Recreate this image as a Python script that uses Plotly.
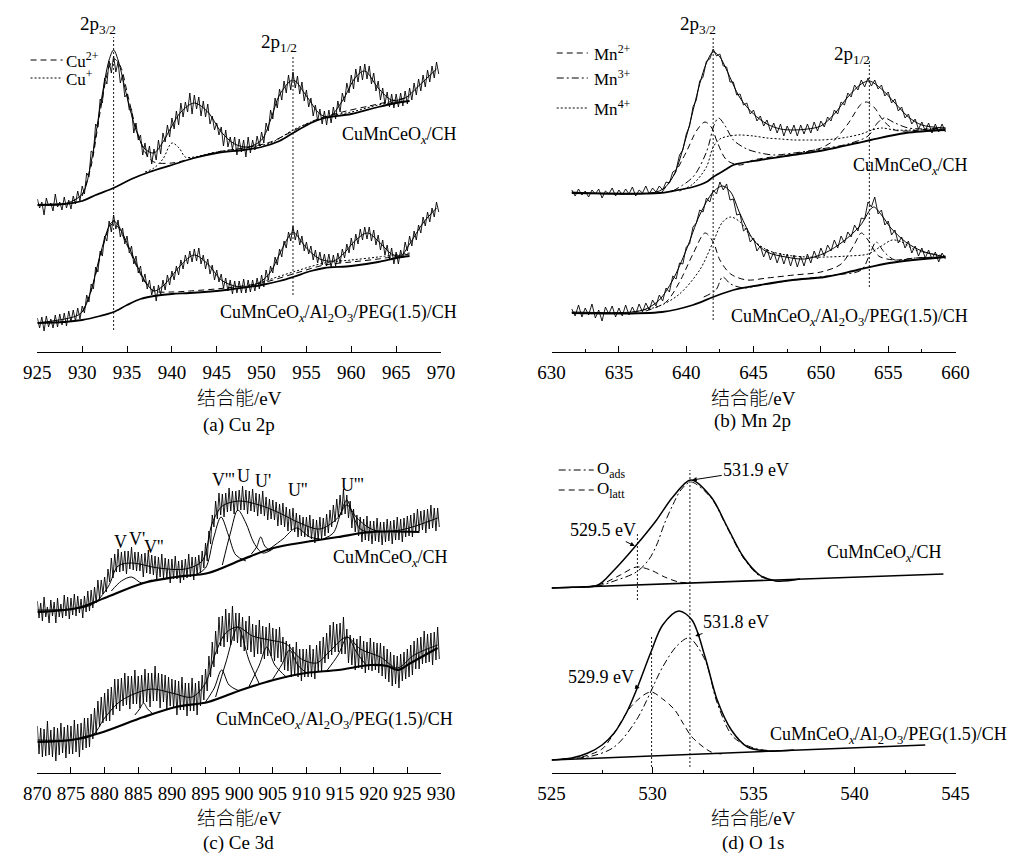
import numpy as np
import plotly.graph_objects as go

W, H = 1024, 859
FONT = "Liberation Serif, Times New Roman, serif"
CJK = "Liberation Serif, Noto Sans CJK SC, serif"

# ---------------- (a) Cu 2p ----------------
cu_start, cu_step = 925.0, 0.25
cu_top_raw = [153,144,150,137,154,146,149,141,158,145,150,142,155,144,152,143,156,148,161,151,
              166,158,179,175,201,199,228,225,253,249,274,268,291,279,296,280,290,269,277,255,
              258,242,243,219,229,212,217,197,209,195,206,188,203,192,212,198,219,210,227,215,
              234,223,241,227,249,235,250,240,259,238,257,243,255,236,251,235,248,228,236,222,
              229,217,225,206,222,205,215,203,215,197,213,200,212,195,215,199,212,202,216,206,
              220,209,229,221,242,233,254,244,263,252,271,259,277,262,280,264,276,258,270,251,
              262,245,254,236,247,231,243,228,241,227,242,229,245,233,251,240,259,250,269,259,
              277,263,283,270,286,272,288,273,286,268,279,261,271,252,264,248,260,245,258,244,
              258,245,259,246,261,248,264,252,269,257,273,261,277,265,282,270,286,274,290,278]
cu_bot_raw = [34,24,35,21,36,25,33,24,37,25,38,27,39,26,41,30,42,31,44,33,
              46,39,57,50,68,63,85,80,101,96,116,111,131,120,137,123,132,115,124,108,
              116,99,106,88,96,79,86,70,78,63,72,57,66,51,67,57,72,62,77,67,
              81,72,86,77,92,83,97,88,101,90,103,91,104,88,97,83,93,78,87,72,
              82,70,78,64,74,61,72,58,71,59,71,59,73,59,72,60,72,61,74,63,
              77,65,82,72,86,79,95,87,103,95,111,104,120,111,126,112,122,107,116,101,
              110,98,106,92,102,89,100,87,98,86,98,85,97,86,99,89,103,94,108,99,
              114,102,118,108,123,112,125,113,125,111,122,107,117,102,112,97,107,93,104,88,
              100,88,102,94,110,101,116,106,121,112,127,119,135,126,140,130,144,135,150,140]
cu_top_env_e = [925,928,930,931,932,933,933.5,934,935,936,937,938,939,940,941,942.5,944,945.5,947,948.5,
                950,951,952,953.5,955,956.5,957.5,959,960.5,961.5,963,964.5,966,967.5,969.5]
cu_top_env_h = [147,148,158,190,245,292,302,292,255,222,203,199,210,226,240,249,240,220,208,205,
                212,232,257,272,256,238,235,251,275,281,264,252,254,266,283]
cu_top_bg_e = [925,928,930,931.5,933.5,935.5,937.5,940,942.5,945,948,950,952,953.5,955.5,957,960,963,965,966.5]
cu_top_bg_h = [147,148,151,157,164,173,180,187,194,199,202,205,211,219,229,234,238,245,249,251]
cu_top_cu2_e = [930,931,932,933,933.6,934.3,935,936,937,938,940,942,945,948,951,953.5,956,959,962,965,966.5]
cu_top_cu2_h = [156,186,240,285,293,285,260,224,200,190,189,193,200,204,210,221,232,240,246,252,255]
cu_top_cu1_e = [937,938,939,940,940.8,941.5,942.5,945,948,951,953.5,955.5,957.5,960,963,965.5]
cu_top_cu1_h = [180,184,193,209,204,195,195,200,204,209,222,230,236,240,247,251]
cu_bot_env_e = [925,929,930,931,932,933,933.5,934,935,936,937,938,939,940,941,942.5,944,945.5,947,948.5,
                950,951,952,953,953.5,954,955,956.5,958,959,960.5,961.8,963,964.5,965.5,966.5,968,969.5]
cu_bot_env_h = [29,35,40,62,97,126,131,127,109,89,71,61,66,76,87,97,88,72,66,65,
                71,80,98,115,120,116,104,93,91,97,112,119,111,98,96,108,129,144]
cu_bot_bg_e = [925,928,930,932,933.5,935,936.5,938,940,942,946,950,952,953.5,955.5,957,960,963,965,966.5]
cu_bot_bg_h = [29,30,32,36,40,47,53,56,58,59,62,67,71,75,81,84,86,90,94,96]
cu_bot_cu2_e = [930,931,932,933,933.5,934,935,936,937,938,940,942,946,950,953.5,957,960,963,966.5]
cu_bot_cu2_h = [40,61,95,124,129,125,107,87,70,61,60,61,64,69,78,87,90,93,98]
cu_bot_cu1_e = [948,950,953.5,957,960,963,966.5]
cu_bot_cu1_h = [65,70,80,89,92,95,99]

# ---------------- (b) Mn 2p ----------------
mn_start, mn_step = 631.5, 0.25
mn_top_raw = [162,156,163,157,161,155,162,158,
              163,154,161,158,164,156,162,157,
              163,158,165,156,162,159,166,158,
              164,160,166,162,170,169,180,182,
              197,202,218,226,245,252,271,275,
              291,293,303,296,298,286,285,270,
              270,257,258,247,249,238,242,231,
              236,226,232,221,229,219,228,216,
              226,218,227,216,227,218,228,219,
              230,221,231,225,235,231,242,238,
              250,247,259,255,267,262,272,265,
              274,266,272,263,267,256,260,249,
              253,241,245,234,238,228,233,223,
              230,221,229,219,228,220,228,220]
mn_bot_raw = [43,36,47,35,44,37,48,34,
              42,31,45,38,46,35,44,36,
              47,37,45,38,48,40,49,42,
              52,46,57,51,64,60,76,73,
              89,88,105,108,125,129,142,140,
              154,150,162,158,170,162,168,152,
              153,137,138,121,124,110,114,101,
              106,95,103,92,100,89,99,88,
              98,86,97,85,96,86,98,89,
              101,93,104,96,107,101,112,104,
              116,109,120,115,127,121,134,133,
              150,145,155,138,142,127,131,117,
              122,109,115,104,111,99,106,96,
              104,94,102,93,100,90,99,93]
mn_top_env_e = [631.5,638,639,640,641,641.5,642,642.5,643,644,645,646,647,648,649,650,651,652,653,653.6,654.5,655.5,656.5,657.5,659.25]
mn_top_env_h = [160,161,175,215,268,289,300,295,282,254,238,228,223,222,223,226,238,255,268,271,263,249,235,227,224]
mn_top_bg_e = [631.5,638,639,640.5,641.5,642,643,643.5,645.5,647.9,650.3,652.7,653.7,656.3,659.25]
mn_top_bg_h = [159,159,161,165,170,175,183,187,192,197,202,209,212,219,222]
mn_top_mn2_e = [638.2,639,640,640.8,641.4,641.9,642.3,643,644,645,648,650,651,652,653,653.4,654,654.6,655.5,656.5,658,659.25]
mn_top_mn2_h = [160,175,200,222,230,224,210,192,187,192,198,204,212,228,248,250,244,232,222,221,223,224]
mn_top_mn3_e = [639,640.5,641.5,642.1,642.4,642.9,643.5,644.5,645.5,646.5,648,650,652,653.5,654.2,654.7,655.5,656.5,658,659.25]
mn_top_mn3_h = [161,175,200,228,234,226,212,203,199,197,199,203,208,216,229,234,229,224,223,223]
mn_top_mn4_e = [639.5,640.5,641.5,642,642.5,643.2,644,645,646,647,648,649,650,651,652,653,653.8,654.5,655.5,657,659.25]
mn_top_mn4_h = [161,168,185,205,213,216,217,216,214,213,212,212,212,213,215,218,222,224,222,222,223]
mn_bot_env_e = [631.5,636,637,638,639,640,641,642,642.7,643.3,644,645,646,647.4,648.8,650.3,651.7,652.9,653.9,654.5,655.2,656.3,657.5,659.25]
mn_bot_env_h = [40,40,43,52,72,102,137,160,166,160,138,112,100,95,93,99,111,126,145,137,124,110,101,95]
mn_bot_bg_e = [631.5,638.2,640.5,642,643.5,645.5,647.9,650.3,652.7,655.1,659.25]
mn_bot_bg_h = [39,40,47,55,62,67,72,75,82,89,95]
mn_bot_mn2_e = [637,638.5,639.5,640.5,641.4,642,642.5,643.3,644.5,646,648,650,651.5,652.5,653,653.5,654.3,655.5,657,659.25]
mn_bot_mn2_h = [41,50,70,98,119,110,92,78,72,74,77,80,88,108,119,112,96,92,94,95]
mn_bot_mn3_e = [641.3,642.2,642.7,643.3,644.3,645.5,648,651,653,653.7,654.1,654.7,655.5,657,659.25]
mn_bot_mn3_h = [55,62,75,68,64,67,72,77,82,100,110,100,92,94,95]
mn_bot_mn4_e = [636,638,639.5,641,642,642.7,643.3,644,645,646,647.4,649,650.5,652,653.5,654.5,655.3,656,657,659.25]
mn_bot_mn4_h = [40,46,58,82,110,130,135,130,112,102,97,95,95,96,98,106,112,110,102,96]

# ---------------- (c) Ce 3d ----------------
ce_start, ce_step = 870.0, 0.25
ce_top_raw = [172,155,170,152,176,156,166,150,173,157,171,150,175,156,169,155,178,157,176,154,
              175,158,179,157,177,160,174,155,177,161,182,162,183,165,186,170,193,174,193,179,
              196,181,204,191,215,195,219,201,224,201,221,202,222,199,222,204,226,203,221,202,
              221,202,219,196,220,200,223,199,218,198,217,193,216,196,219,195,215,195,214,190,
              214,194,217,194,212,190,213,193,214,195,219,196,216,193,216,198,218,200,222,205,
              230,212,242,229,258,246,272,254,280,258,279,256,280,261,285,262,282,259,282,262,
              283,263,287,263,283,259,282,262,284,261,280,257,279,259,282,257,276,253,274,254,
              273,253,271,247,269,248,270,246,266,242,264,243,265,241,260,236,258,237,256,236,
              256,236,258,234,254,230,253,233,256,234,255,237,259,240,263,246,268,251,274,256,
              278,258,284,259,278,255,272,245,264,241,258,237,256,231,254,233,257,232,252,229,
              252,232,255,231,251,228,251,231,254,232,252,229,253,233,256,233,254,231,255,236,
              257,237,258,236,260,241,264,242,262,243,263,240,264,244,268,245,265,242,265,246]
ce_bot_raw = [47,19,45,16,44,17,52,18,43,16,46,12,45,18,50,20,46,15,48,19,
              47,19,53,21,49,16,50,23,55,25,55,26,59,34,65,40,72,46,76,50,
              80,52,84,52,86,58,94,64,94,62,95,67,100,68,97,64,97,69,103,69,
              97,65,98,70,104,71,100,66,100,72,107,72,100,65,99,71,98,64,96,67,
              94,65,93,58,92,63,96,63,90,57,90,62,95,62,90,58,92,67,98,73,
              104,82,117,96,131,106,142,119,156,127,157,126,164,131,160,128,167,132,160,130,
              160,126,156,122,152,123,157,121,149,116,148,119,153,119,147,114,146,117,150,117,
              145,112,144,115,146,111,136,103,132,102,129,96,126,97,131,96,124,92,124,96,
              124,96,128,96,124,94,128,102,132,102,136,110,140,114,148,118,151,121,149,121,
              150,119,156,119,144,110,138,108,135,103,134,105,137,104,132,100,131,103,135,102,
              131,103,130,100,130,97,127,94,124,91,121,87,118,89,117,85,119,92,121,94,
              124,96,128,98,132,104,135,104,136,109,142,110,139,111,140,108,141,113,146,114]
ce_top_env_e = [870,878,880.5,882,884,888,892,894.5,896,897.5,900,903,906,909,912,914.5,916,917.5,920,924,929.5]
ce_top_env_h = [163,168,186,207,210,205,204,212,250,267,272,268,260,250,244,254,268,255,243,243,255]
ce_top_bg_e = [870,876,880,885.8,890.6,895.4,900.3,905.1,909.9,914.7,919.6,926.8]
ce_top_bg_h = [161,165,175,190,196,200,213,225,231,236,241,241]
ce_top_peak_e = [[881,882.5,884,885.5,887],[893.5,895,896.2,897.3,898.4,899.5,901],
                 [897.5,898.7,899.8,901,902.2,903.5,905],[901.8,902.6,903.2,903.8,904.6],
                 [904.5,906.5,908.5,910.5,912],[912.5,914,915,916,917,918,919.5]]
ce_top_peak_h = [[182,192,196,190,193],[198,205,235,256,238,218,212],
                 [208,240,263,250,230,220,224],[219,226,236,227,222],
                 [224,234,245,236,234],[234,240,258,273,256,244,240]]
ce_bot_env_e = [870,878,880,882,884,887,890,893,895,896.5,898,899.8,902,904.5,907,909,911.5,913.5,916,918,921,923.5,926,929.5]
ce_bot_env_h = [33,37,55,70,78,84,80,76,90,120,140,146,137,133,129,115,110,122,136,124,116,105,118,128]
ce_bot_bg_e = [870,875,879.3,885.8,890.6,895.4,900.3,905.1,909.9,914.7,919.6,922,923.6,925.5,929.5]
ce_bot_bg_h = [31,33,40,56,66,71,83,93,100,103,108,107,103,110,125]
ce_bot_peak_e = [[884.5,885.2,885.8,886.4,887.2],[895,896.3,897.4,898.5,900],
                 [896.5,898,899.8,901.5,903],[901.5,903,904.1,905.3,907],
                 [905,906.3,907.5,908.7,910],[913,914.7,916.1,917.5,919]]
ce_bot_peak_h = [[58,64,70,64,59],[71,85,103,88,82],[76,110,146,112,89],
                 [87,108,126,108,96],[94,108,123,108,100],[102,118,136,120,107]]

# ---------------- (d) O 1s ----------------
o_top_base_e = [525, 544.4]
o_top_base_h = [185, 199]
o_top_env_e = [525,526,527.3,528.1,529.2,530.2,531,531.9,532.9,533.7,534.5,535.3,536.1,537.3]
o_top_env_h = [185,185.7,188,203,228,253,276,293,276,246,216,198,192,194]
o_top_ads_e = [526.5,527.3,528.1,529.2,529.8,530.2,530.6,531,531.4,531.9,532.9,533.7,534.5,535.3,536.1]
o_top_ads_h = [186,187,192,201,213,228,250,268,283,291,275,245,215,197,192]
o_top_latt_e = [526.8,527.6,528.4,529.2,529.9,530.6,531.3,531.9]
o_top_latt_h = [186,190,198,206,203,196,191,190]
o_bot_base_e = [525, 543.5]
o_bot_base_h = [13, 28]
o_bot_env_e = [525,526,526.8,527.5,528.1,528.7,529.2,529.9,530.5,531.3,531.95,532.6,533.2,533.9,534.7,535.7,537]
o_bot_env_h = [13,15,20,28,40,60,83,120,148,162,153,116,73,43,26,22,23]
o_bot_ads_e = [525.5,527,528.1,529.2,530.5,531.2,531.8,532.6,533.2,534,535,536]
o_bot_ads_h = [14,17,26,53,106,127,135,113,70,36,25,22]
o_bot_latt_e = [526.5,527.5,528.1,529,529.9,530.5,531.1,531.5,531.95,532.9,533.5]
o_bot_latt_h = [16,24,40,68,81,74,63,50,36,21,19]

DASH = "6px,4px"
DOT = "2px,2px"
DASHDOT = "7px,3px,2px,3px"

fig = go.Figure()


def line(e, h, ax, width=1.0, dash="solid", shape="spline"):
    ya = ax.replace("x", "y")
    fig.add_trace(go.Scatter(x=e, y=h, mode="lines", xaxis=ax, yaxis=ya,
                             line=dict(color="black", width=width, dash=dash,
                                       shape=shape, smoothing=0.9),
                             hoverinfo="skip", showlegend=False))


def raw(vals, start, step, ax, width=0.9):
    e = start + step * np.arange(len(vals))
    line(e, vals, ax, width=width, shape="linear")


# (a)
raw(cu_top_raw, cu_start, cu_step, "x")
raw(cu_bot_raw, cu_start, cu_step, "x")
line(cu_top_env_e, cu_top_env_h, "x", 1.0)
line(cu_bot_env_e, cu_bot_env_h, "x", 1.0)
line(cu_top_bg_e, cu_top_bg_h, "x", 1.8)
line(cu_bot_bg_e, cu_bot_bg_h, "x", 1.8)
line(cu_top_cu2_e, cu_top_cu2_h, "x", 1.0, DASH)
line(cu_bot_cu2_e, cu_bot_cu2_h, "x", 1.0, DASH)
line(cu_top_cu1_e, cu_top_cu1_h, "x", 1.0, DOT)
line(cu_bot_cu1_e, cu_bot_cu1_h, "x", 1.0, DOT)
# (b)
raw(mn_top_raw, mn_start, mn_step, "x2")
raw(mn_bot_raw, mn_start, mn_step, "x2")
line(mn_top_env_e, mn_top_env_h, "x2", 1.0)
line(mn_bot_env_e, mn_bot_env_h, "x2", 1.0)
line(mn_top_bg_e, mn_top_bg_h, "x2", 1.8)
line(mn_bot_bg_e, mn_bot_bg_h, "x2", 1.8)
line(mn_top_mn2_e, mn_top_mn2_h, "x2", 1.0, DASH)
line(mn_bot_mn2_e, mn_bot_mn2_h, "x2", 1.0, DASH)
line(mn_top_mn3_e, mn_top_mn3_h, "x2", 1.0, DASHDOT)
line(mn_bot_mn3_e, mn_bot_mn3_h, "x2", 1.0, DASHDOT)
line(mn_top_mn4_e, mn_top_mn4_h, "x2", 1.0, DOT)
line(mn_bot_mn4_e, mn_bot_mn4_h, "x2", 1.0, DOT)
# (c)
raw(ce_top_raw, ce_start, ce_step, "x3")
raw(ce_bot_raw, ce_start, ce_step, "x3")
line(ce_top_env_e, ce_top_env_h, "x3", 1.0)
line(ce_bot_env_e, ce_bot_env_h, "x3", 1.0)
line(ce_top_bg_e, ce_top_bg_h, "x3", 2.2)
line(ce_bot_bg_e, ce_bot_bg_h, "x3", 2.2)
for pe, ph in zip(ce_top_peak_e, ce_top_peak_h):
    line(pe, ph, "x3", 1.0)
for pe, ph in zip(ce_bot_peak_e, ce_bot_peak_h):
    line(pe, ph, "x3", 1.0)
# (d)
line(o_top_base_e, o_top_base_h, "x4", 1.6, shape="linear")
line(o_bot_base_e, o_bot_base_h, "x4", 1.6, shape="linear")
line(o_top_env_e, o_top_env_h, "x4", 1.5)
line(o_bot_env_e, o_bot_env_h, "x4", 1.5)
line(o_top_ads_e, o_top_ads_h, "x4", 1.0, DASHDOT)
line(o_bot_ads_e, o_bot_ads_h, "x4", 1.0, DASHDOT)
line(o_top_latt_e, o_top_latt_h, "x4", 1.0, DASH)
line(o_bot_latt_e, o_bot_latt_h, "x4", 1.0, DASH)

shapes = []


def vline(ax, e, h0, h1):
    shapes.append(dict(type="line", xref=ax, yref=ax.replace("x", "y"), x0=e, x1=e, y0=h0, y1=h1,
                       line=dict(color="black", width=0.9, dash=DOT)))


vline("x", 933.5, 22, 315)
vline("x", 953.5, 57, 295)
vline("x2", 642.0, 32, 314)
vline("x2", 653.6, 65, 292)
vline("x4", 529.25, 173, 240)
vline("x4", 531.85, 6, 303)
vline("x4", 529.95, 6, 138)


def px(x):
    return x / W


def py(y):
    return 1 - y / H


def legend_line(x0, x1, y, dash):
    shapes.append(dict(type="line", xref="paper", yref="paper", x0=px(x0), x1=px(x1),
                       y0=py(y), y1=py(y), line=dict(color="black", width=1, dash=dash)))


legend_line(17, 50, 60, DASH)
legend_line(17, 50, 78, DOT)
legend_line(558, 590, 53, DASH)
legend_line(558, 590, 78, DASHDOT)
legend_line(558, 590, 108, DOT)
legend_line(560, 596, 470, DASHDOT)
legend_line(560, 596, 490, DASH)

ann = []


def text(t, x, y, size=18, xanchor="center", font=FONT, weight=None):
    f = dict(family=font, size=size, color="black")
    if weight:
        f["weight"] = weight
    ann.append(dict(text=t, x=px(x), y=py(y), xref="paper", yref="paper", showarrow=False,
                    xanchor=xanchor, yanchor="middle", font=f))


def arrow_text(t, tx, ty, hx, hy):
    e = 525 + (hx - 552.7) / 20.72
    h = 773 - hy
    ann.append(dict(text=t, x=e, y=h, xref="x4", yref="y4", showarrow=True, ax=tx - hx, ay=ty - hy,
                    arrowhead=2, arrowsize=0.9, arrowwidth=1, arrowcolor="black",
                    font=dict(family=FONT, size=18, color="black")))


CH = "CuMnCeO<sub><i>x</i></sub>/CH"
PEG = "CuMnCeO<sub><i>x</i></sub>/Al<sub>2</sub>O<sub>3</sub>/PEG(1.5)/CH"

# (a)
text("2p<sub>3/2</sub>", 86, 25, 19)
text("2p<sub>1/2</sub>", 272, 43, 19)
text("Cu<sup>2+</sup>", 51, 60, 17, "left")
text("Cu<sup>+</sup>", 51, 78, 17, "left")
text(CH, 458, 136, 18, "right")
text(PEG, 458, 313, 18, "right")
# (b)
text("2p<sub>3/2</sub>", 703, 25, 19)
text("2p<sub>1/2</sub>", 862, 55, 19)
text("Mn<sup>2+</sup>", 594, 53, 17, "left")
text("Mn<sup>3+</sup>", 594, 78, 17, "left")
text("Mn<sup>4+</sup>", 594, 108, 17, "left")
text(CH, 983, 167, 18, "right")
text(PEG, 983, 317, 18, "right")
# (c)
text("V'''", 215, 480, 18)
text("U", 236, 476, 18)
text("U'", 256, 481, 18)
text("U''", 292, 490, 18)
text("U'''", 348, 485, 18)
text("V", 109, 542, 18)
text("V'", 126, 539, 18)
text("V''", 144, 547, 18)
text(CH, 448, 558, 18, "right")
text(PEG, 453, 720, 18, "right")
# (d)
text("O<sub>ads</sub>", 597, 470, 17, "left")
text("O<sub>latt</sub>", 597, 490, 17, "left")
text(CH, 956, 553, 18, "right")
text(PEG, 1023, 735, 18, "right")
arrow_text("531.9 eV", 761, 470, 697, 480)
arrow_text("529.5 eV", 606, 530, 638, 546)
arrow_text("531.8 eV", 741, 622, 700, 636)
arrow_text("529.9 eV", 604, 677, 643, 688)

# axis titles and captions
for cx in (232, 760):
    text("结合能/eV", cx, 398, 19, font=CJK, weight=300)
    text("结合能/eV", cx, 818, 19, font=CJK, weight=300)
text("(a) Cu 2p", 231, 425, 19)
text("(b) Mn 2p", 759, 421, 19)
text("(c) Ce 3d", 231, 843, 19)
text("(d) O 1s", 760, 843, 19)


def xax(domain, rng, tick0, minor=False, anchor="y"):
    d = dict(domain=domain, range=rng, anchor=anchor, showline=True, linecolor="black", linewidth=1,
             ticks="inside", ticklen=6, tickwidth=1, tickcolor="black", tick0=tick0, dtick=5,
             showgrid=False, zeroline=False, ticklabelstandoff=3,
             tickfont=dict(family=FONT, size=19, color="black"), fixedrange=True)
    if minor:
        d["minor"] = dict(ticks="inside", ticklen=3, tickwidth=1, tickcolor="black", dtick=2.5,
                          tick0=tick0, showgrid=False)
    return d


def yax(domain, rng, anchor):
    return dict(domain=domain, range=rng, visible=False, anchor=anchor, fixedrange=True)


xa = [24 / W, 439 / W]
xb = [552.7 / W, 968 / W]
yt = [1 - 352 / H, 1.0]
yb = [1 - 773 / H, 1 - 440 / H]

fig.update_layout(
    width=W, height=H, margin=dict(l=0, r=0, t=0, b=0),
    paper_bgcolor="white", plot_bgcolor="white", showlegend=False,
    xaxis=xax(xa, [925, 970], 925, anchor="y"),
    xaxis2=xax(xb, [630, 660], 630, minor=True, anchor="y2"),
    xaxis3=xax(xa, [870, 930], 870, anchor="y3"),
    xaxis4=xax(xb, [525, 545], 525, minor=True, anchor="y4"),
    yaxis=yax(yt, [0, 352], "x"),
    yaxis2=yax(yt, [0, 352], "x2"),
    yaxis3=yax(yb, [0, 333], "x3"),
    yaxis4=yax(yb, [0, 333], "x4"),
    shapes=shapes, annotations=ann,
)

fig.write_html("out.html", post_script="document.body.style.margin='0';",
               config={"displayModeBar": False})
